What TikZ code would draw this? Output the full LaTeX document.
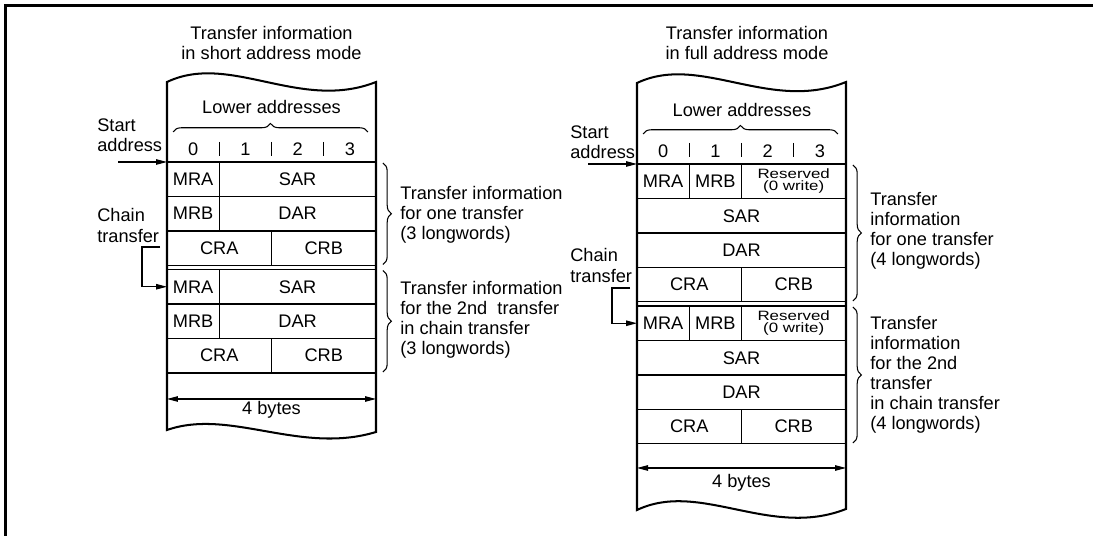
\documentclass[tikz,border=0pt]{standalone}
\usepackage{fontspec}
\setmainfont{Liberation Sans}
\newfontfamily\resvfont[FakeStretch=1.25]{Liberation Sans}
\usetikzlibrary{arrows.meta, positioning, calc, decorations.pathreplacing}

\begin{document}
\begin{tikzpicture}[
    x=0.02cm, y=-0.02cm,
    >={Triangle[length=2.2mm, width=1.1mm]},
    every node/.style={font=\fontsize{10.36pt}{11.4pt}\selectfont},
    cell/.style={rectangle, draw, line width=0.6pt, minimum height=0.69cm, inner sep=0pt, outer sep=0pt, anchor=north west},
    narrow/.style={cell, minimum width=1.045cm},
    half/.style={cell, minimum width=2.09cm},
    wide/.style={cell, minimum width=3.135cm},
    full/.style={cell, minimum width=4.18cm},
    resv/.style={font=\resvfont\fontsize{7.7pt}{6.6pt}\selectfont, align=center},
    memory/.style={draw, line width=1.15pt},
    lbl/.style={anchor=west, align=left, inner sep=0pt},
    title/.style={align=center, inner sep=0pt},
    brc/.style={decorate, decoration={brace, amplitude=0.17cm}, line width=0.6pt},
    link/.style={->, line width=0.6pt}
]

\useasboundingbox (0,0) rectangle (1093,536);
\draw[line width=1.4pt] (5.5,536) -- (5.5,5.5) -- (1093,5.5);

% ============================================================
% 1. SHORT ADDRESS MODE
% ============================================================
\node[title] (titleA) at (271.5,43) {Transfer information\\in short address mode};

\node[narrow] (mraA) at (167,162) {MRA};
\node[wide, right=0pt of mraA] (sarA) {SAR};
\node[narrow, below=0pt of mraA.south west, anchor=north west] (mrbA) {MRB};
\node[wide, right=0pt of mrbA] (darA) {DAR};
\node[half, below=0pt of mrbA.south west, anchor=north west] (craA) {CRA};
\node[half, right=0pt of craA] (crbA) {CRB};

\node[narrow] (mraB) at (167,269.5) {MRA};
\node[wide, right=0pt of mraB] (sarB) {SAR};
\node[narrow, below=0pt of mraB.south west, anchor=north west] (mrbB) {MRB};
\node[wide, right=0pt of mrbB] (darB) {DAR};
\node[half, below=0pt of mrbB.south west, anchor=north west] (craB) {CRA};
\node[half, right=0pt of craB] (crbB) {CRB};

\draw[memory] (167,82) .. controls (230,52) and (300,112) .. (376,82) -- (376,432)
    .. controls (300,455) and (230,408) .. (167,430) -- cycle;

\node (lowA) at (271.5,107) {Lower addresses};
\draw[brc] ($(mraA.north west)+(6,-30)$) -- ($(sarA.north east)+(-8,-30)$);
\foreach \d in {0,...,3}
    \node (hdA\d) at (193.1+52.25*\d,149) {\d};
\foreach \d in {1,2,3}
    \draw[line width=0.6pt] (167+52.25*\d,142) -- (167+52.25*\d,156);

\node[lbl] (startA) at (97,135) {Start\\address};
\coordinate (inA) at (118,162);
\draw[link] (inA) -- (mraA.north west);

\node[lbl] (chainA) at (97,225.5) {Chain\\transfer};
\coordinate (chA) at (160,247);
\draw[link] (chA) -- ++(-18,0) |- (mraB.west);

\draw[brc] ($(sarA.north east)+(7,1)$) -- ($(crbA.south east)+(7,-1)$);
\draw[brc] ($(sarB.north east)+(7,1)$) -- ($(crbB.south east)+(7,-1)$);
\node[lbl] (infoA) at (400,215) {Transfer information\\for one transfer\\(3 longwords)};
\node[lbl] (infoB) at (400,320) {Transfer information\\for the 2nd\ \ transfer\\in chain transfer\\(3 longwords)};

\coordinate (bwA) at (167,399);
\coordinate (beA) at (376,399);
\draw[<->, line width=0.6pt] (bwA) -- (beA);
\node (bytesA) at (271.5,410) {4 bytes};

% ============================================================
% 2. FULL ADDRESS MODE
% ============================================================
\node[title] (titleC) at (747,43) {Transfer information\\in full address mode};

\node[narrow] (mraC) at (637,164) {MRA};
\node[narrow, right=0pt of mraC] (mrbC) {MRB};
\node[half, resv, right=0pt of mrbC] (resC) {Reserved\\(0 write)};
\node[full, below=0pt of mraC.south west, anchor=north west] (sarC) {SAR};
\node[full, below=0pt of sarC] (darC) {DAR};
\node[half, below=0pt of darC.south west, anchor=north west] (craC) {CRA};
\node[half, right=0pt of craC] (crbC) {CRB};

\node[narrow] (mraD) at (637,306) {MRA};
\node[narrow, right=0pt of mraD] (mrbD) {MRB};
\node[half, resv, right=0pt of mrbD] (resD) {Reserved\\(0 write)};
\node[full, below=0pt of mraD.south west, anchor=north west] (sarD) {SAR};
\node[full, below=0pt of sarD] (darD) {DAR};
\node[half, below=0pt of darD.south west, anchor=north west] (craD) {CRA};
\node[half, right=0pt of craD] (crbD) {CRB};

\draw[memory] (637,83) .. controls (700,53) and (770,113) .. (846,82) -- (846,509)
    .. controls (770,539) and (700,480) .. (637,510) -- cycle;

\node (lowC) at (742,110) {Lower addresses};
\draw[brc] ($(mraC.north west)+(6,-30)$) -- ($(resC.north east)+(-8,-30)$);
\foreach \d in {0,...,3}
    \node (hdC\d) at (663.1+52.25*\d,151) {\d};
\foreach \d in {1,2,3}
    \draw[line width=0.6pt] (637+52.25*\d,143) -- (637+52.25*\d,157);

\node[lbl] (startC) at (570,142.5) {Start\\address};
\coordinate (inC) at (588,164);
\draw[link] (inC) -- (mraC.north west);

\node[lbl] (chainC) at (570,265.5) {Chain\\transfer};
\coordinate (chC) at (630,288);
\draw[link] (chC) -- ++(-18,0) |- (mraD.west);

\draw[brc] ($(resC.north east)+(7,1)$) -- ($(crbC.south east)+(7,-1)$);
\draw[brc] ($(resD.north east)+(7,1)$) -- ($(crbD.south east)+(7,-1)$);
\node[lbl] (infoC) at (870,231) {Transfer\\information\\for one transfer\\(4 longwords)};
\node[lbl] (infoD) at (870,375) {Transfer\\information\\for the 2nd\\transfer\\in chain transfer\\(4 longwords)};

\coordinate (bwC) at (637,468);
\coordinate (beC) at (846,468);
\draw[<->, line width=0.6pt] (bwC) -- (beC);
\node (bytesC) at (741.5,483) {4 bytes};

\end{tikzpicture}
\end{document}
